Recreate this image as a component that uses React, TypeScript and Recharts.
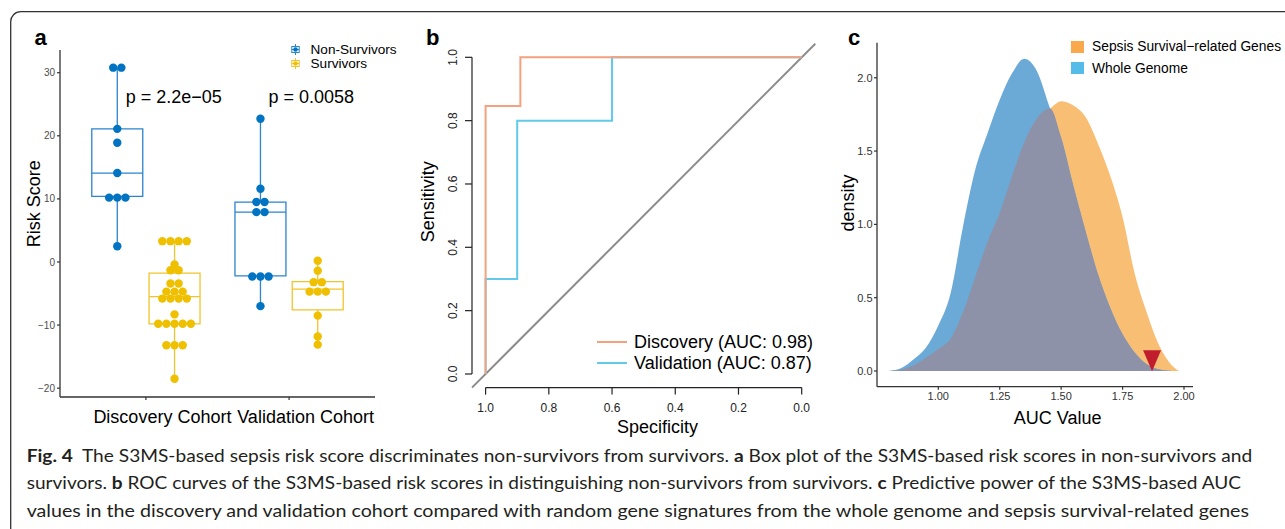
import React from 'react';
import {
  ComposedChart,
  Scatter,
  Line,
  Area,
  XAxis,
  YAxis,
  ReferenceArea,
  ReferenceLine,
  ReferenceDot,
  Legend,
} from 'recharts';

const FONT = '"Liberation Sans", Arial, Helvetica, sans-serif';
const CAPTION_FONT = 'Lato, "Open Sans", sans-serif';

/* ---------------- panel a : risk score box plots ---------------- */
const cohortLabels = ['Discovery Cohort', 'Validation Cohort'];
const cohortPositions = [1, 2];
const groupLabels = ['Non-Survivors', 'Survivors'];
const groupDotColors = ['#0073C2', '#EFC000'];
const groupBoxColors = ['#2A84CE', '#F0C42C'];
const riskTicks = [-20, -10, 0, 10, 20, 30];

// beeswarm rows: [risk score, number of dots at that level]
const discoveryNonSurvivors: [number, number][] = [
  [30.8, 2], [21.1, 1], [18.9, 1], [14.1, 1], [10.2, 3], [2.5, 1],
];
const discoverySurvivors: [number, number][] = [
  [3.3, 4], [-0.4, 1], [-1.3, 2], [-3.4, 2], [-4.7, 3], [-5.8, 4], [-8.3, 1], [-9.8, 5], [-13.2, 3], [-18.5, 1],
];
const validationNonSurvivors: [number, number][] = [
  [22.7, 1], [11.6, 1], [9.5, 2], [7.9, 2], [-2.3, 3], [-7.0, 1],
];
const validationSurvivors: [number, number][] = [
  [0.2, 1], [-1.4, 1], [-3.2, 2], [-4.7, 3], [-8.5, 1], [-11.8, 1], [-13.1, 1],
];

// box statistics: [lower whisker, Q1, median, Q3, upper whisker]
const discoveryNonSurvivorsBox = [2.5, 10.4, 14.1, 21.1, 30.8];
const discoverySurvivorsBox = [-18.5, -9.8, -5.5, -1.75, 3.3];
const validationNonSurvivorsBox = [-7.0, -2.2, 7.9, 9.5, 22.7];
const validationSurvivorsBox = [-13.1, -7.6, -4.3, -3.1, 0.2];

const pValueLabels = ['p = 2.2e\u221205', 'p = 0.0058'];
const pValueX = [1.194, 2.155];
const pValueY = 26.2;

/* ---------------- panel b : ROC curves ---------------- */
const rocTicks = [1, 0.8, 0.6, 0.4, 0.2, 0];
const rocNames = ['Discovery (AUC: 0.98)', 'Validation (AUC: 0.87)'];
const rocColors = ['#F4A17E', '#63C9EA'];
const discoverySpecificity = [1, 1, 0.89, 0.89, 0];
const discoverySensitivity = [0, 0.846, 0.846, 1, 1];
const validationSpecificity = [1, 1, 0.9, 0.9, 0.6, 0.6, 0];
const validationSensitivity = [0, 0.3, 0.3, 0.8, 0.8, 1, 1];

/* ---------------- panel c : AUC densities ---------------- */
const aucGrid = [0.8, 0.85, 0.9, 0.95, 1.0, 1.05, 1.1, 1.15, 1.2, 1.25, 1.3, 1.35, 1.4, 1.455, 1.5, 1.55, 1.6, 1.65, 1.7, 1.75, 1.8, 1.85, 1.9, 1.95, 1.98];
const wholeGenomeDensity = [0.0, 0.02, 0.08, 0.16, 0.31, 0.53, 0.98, 1.37, 1.62, 1.85, 2.03, 2.13, 2.05, 1.79, 1.59, 1.26, 0.95, 0.66, 0.43, 0.25, 0.125, 0.045, 0.01, 0.0, 0.0];
const sepsisDensity = [0.0, 0.01, 0.04, 0.09, 0.15, 0.22, 0.4, 0.64, 0.88, 1.08, 1.33, 1.56, 1.72, 1.79, 1.84, 1.81, 1.73, 1.55, 1.33, 1.05, 0.66, 0.39, 0.17, 0.04, 0.0];
const densityNames = ['Sepsis Survival\u2212related Genes', 'Whole Genome'];
const densityKeyColors = ['#F9A94B', '#55BCEA'];
const densityFills = { sepsis: '#F8BF74', genome: '#6BAAD7', overlap: '#8E92A8' };
const aucTicks = [1, 1.25, 1.5, 1.75, 2];
const densityTicks = [0, 0.5, 1, 1.5, 2];
const observedAuc = { x: 1.87, y: 0.07 };

/* ---------------- caption ---------------- */
const captionLines: { bold: boolean; text: string }[][] = [
  [
    { bold: true, text: 'Fig. 4' },
    { bold: false, text: '  The S3MS-based sepsis risk score discriminates non-survivors from survivors. ' },
    { bold: true, text: 'a' },
    { bold: false, text: ' Box plot of the S3MS-based risk scores in non-survivors and' },
  ],
  [
    { bold: false, text: 'survivors. ' },
    { bold: true, text: 'b' },
    { bold: false, text: ' ROC curves of the S3MS-based risk scores in distinguishing non-survivors from survivors. ' },
    { bold: true, text: 'c' },
    { bold: false, text: ' Predictive power of the S3MS-based AUC' },
  ],
  [
    { bold: false, text: 'values in the discovery and validation cohort compared with random gene signatures from the whole genome and sepsis survival-related genes' },
  ],
];
const captionWidths = [1225.5, 1214.3, 1222.3];
const captionBaselines = [461.5, 489.2, 516.8];

/* ---------------- derived ---------------- */
const GROUP_OFFSET = 0.2;
const BOX_HALF = 0.178;
const DOT_STEP = 0.057;

const boxGroups = [
  { cohort: 0, group: 0, rows: discoveryNonSurvivors, box: discoveryNonSurvivorsBox },
  { cohort: 0, group: 1, rows: discoverySurvivors, box: discoverySurvivorsBox },
  { cohort: 1, group: 0, rows: validationNonSurvivors, box: validationNonSurvivorsBox },
  { cohort: 1, group: 1, rows: validationSurvivors, box: validationSurvivorsBox },
].map((g) => {
  const cx = cohortPositions[g.cohort] + (g.group === 0 ? -1 : 1) * GROUP_OFFSET;
  const points = g.rows.flatMap(([v, n]) =>
    Array.from({ length: n }, (_, i) => ({ x: cx + (i - (n - 1) / 2) * DOT_STEP, y: v }))
  );
  return { ...g, cx, points };
});

const discoveryRoc = discoverySpecificity.map((s, i) => ({ x: s, y: discoverySensitivity[i] }));
const validationRoc = validationSpecificity.map((s, i) => ({ x: s, y: validationSensitivity[i] }));

const densityData = aucGrid.map((x, i) => ({
  x,
  sepsis: sepsisDensity[i],
  genome: wholeGenomeDensity[i],
  overlap: Math.min(sepsisDensity[i], wholeGenomeDensity[i]),
}));

const RISK_DOMAIN: [number, number] = [-21.4, 33.6];
const ROC_DOMAIN: [number, number] = [-0.043, 1.043];
const AUC_DOMAIN: [number, number] = [0.7505, 2.0366];
const DENSITY_DOMAIN: [number, number] = [-0.107, 2.239];

const minus = (v: number) => String(v).replace('-', '\u2212');

/* ---------------- custom pieces ---------------- */
const CohortTick = (props: any) => {
  const { x, y, payload } = props;
  const idx = cohortPositions.indexOf(payload.value);
  return (
    <text x={x + 16.5} y={y + 21} textAnchor="middle" fontSize={18} fill="#000" fontFamily={FONT}>
      {cohortLabels[idx]}
    </text>
  );
};

const RotatedTick = (props: any) => {
  const { x, y, payload } = props;
  return (
    <text
      x={x}
      y={y}
      transform={`rotate(-90 ${x} ${y})`}
      textAnchor="middle"
      fontSize={12}
      fill="#222"
      fontFamily={FONT}
    >
      {Number(payload.value).toFixed(1)}
    </text>
  );
};

const LegendA = () => (
  <div style={{ fontFamily: FONT, fontSize: 13.6, color: '#000', lineHeight: '14.3px' }}>
    {groupLabels.map((name, i) => (
      <div key={name} style={{ display: 'flex', alignItems: 'center', height: 14.3, whiteSpace: 'nowrap' }}>
        <svg width={9} height={11} style={{ marginRight: 10.5, flex: 'none' }}>
          <line x1={4.5} y1={0} x2={4.5} y2={11} stroke={groupBoxColors[i]} strokeWidth={1} />
          <rect x={0.8} y={2.5} width={7.4} height={6} fill="#fff" stroke={groupBoxColors[i]} strokeWidth={1} />
          <line x1={0.8} y1={5.5} x2={8.2} y2={5.5} stroke={groupBoxColors[i]} strokeWidth={1} />
          <circle cx={4.5} cy={5.5} r={2.3} fill={groupDotColors[i]} />
        </svg>
        <span>{name}</span>
      </div>
    ))}
  </div>
);

const LegendB = () => (
  <div style={{ fontFamily: FONT, fontSize: 18, color: '#000', lineHeight: '21px' }}>
    {rocNames.map((name, i) => (
      <div key={name} style={{ display: 'flex', alignItems: 'center', height: 21, whiteSpace: 'nowrap' }}>
        <svg width={30} height={4} style={{ marginRight: 7, flex: 'none' }}>
          <line x1={0} y1={2} x2={30} y2={2} stroke={rocColors[i]} strokeWidth={2} />
        </svg>
        <span>{name}</span>
      </div>
    ))}
  </div>
);

const LegendC = () => (
  <div style={{ fontFamily: FONT, fontSize: 13.8, color: '#000', lineHeight: '21.2px' }}>
    {densityNames.map((name, i) => (
      <div key={name} style={{ display: 'flex', alignItems: 'center', height: 21.2, whiteSpace: 'nowrap' }}>
        <div style={{ width: 12.5, height: 12.5, background: densityKeyColors[i], marginRight: 8.5, flex: 'none' }} />
        <span>{name}</span>
      </div>
    ))}
  </div>
);

const Triangle = (props: any) => {
  const { cx, cy } = props;
  if (cx == null || cy == null) return null;
  return (
    <polygon
      points={`${cx - 9},${cy - 10.5} ${cx + 9},${cy - 10.5} ${cx},${cy + 10.5}`}
      fill="#C11E2D"
    />
  );
};

const legendWrap = (left: number, top: number) => ({
  position: 'absolute' as const,
  left,
  top,
  width: 'auto',
  height: 'auto',
  margin: 0,
});

/* ---------------- charts ---------------- */
const PanelA = () => (
  <ComposedChart width={400} height={440} margin={{ top: 50, right: 25, bottom: 0, left: 0 }}>
    <XAxis
      type="number"
      dataKey="x"
      domain={[0.4, 2.6]}
      ticks={cohortPositions}
      allowDataOverflow
      interval={0}
      height={43}
      tickSize={3}
      tick={<CohortTick />}
      axisLine={{ stroke: '#333', strokeWidth: 1.3 }}
      tickLine={{ stroke: '#333', strokeWidth: 1.2 }}
    />
    <YAxis
      type="number"
      dataKey="y"
      domain={RISK_DOMAIN}
      ticks={riskTicks}
      allowDataOverflow
      interval={0}
      width={60}
      tickSize={3}
      tickFormatter={minus}
      tick={{ fontSize: 10, fill: '#4D4D4D', fontFamily: FONT }}
      axisLine={{ stroke: '#333', strokeWidth: 1.3 }}
      tickLine={{ stroke: '#333', strokeWidth: 1.2 }}
    />
    {boxGroups.flatMap((g, k) => {
      const [lo, q1, med, q3, hi] = g.box;
      const c = groupBoxColors[g.group];
      return [
        <ReferenceLine key={`wl${k}`} segment={[{ x: g.cx, y: lo }, { x: g.cx, y: q1 }]} stroke={c} strokeWidth={1.3} />,
        <ReferenceLine key={`wh${k}`} segment={[{ x: g.cx, y: q3 }, { x: g.cx, y: hi }]} stroke={c} strokeWidth={1.3} />,
        <ReferenceArea
          key={`bx${k}`}
          x1={g.cx - BOX_HALF}
          x2={g.cx + BOX_HALF}
          y1={q1}
          y2={q3}
          fill="none"
          fillOpacity={0}
          stroke={c}
          strokeWidth={1.3}
        />,
        <ReferenceLine
          key={`md${k}`}
          segment={[{ x: g.cx - BOX_HALF, y: med }, { x: g.cx + BOX_HALF, y: med }]}
          stroke={c}
          strokeWidth={1.3}
        />,
      ];
    })}
    {boxGroups.map((g, k) => (
      <Scatter
        key={`pts${k}`}
        name={groupLabels[g.group]}
        data={g.points}
        fill={groupDotColors[g.group]}
        isAnimationActive={false}
        shape={(p: any) => <circle cx={p.cx} cy={p.cy} r={4.2} fill={groupDotColors[g.group]} />}
      />
    ))}
    {pValueLabels.map((lab, i) => (
      <ReferenceDot
        key={lab}
        x={pValueX[i]}
        y={pValueY}
        r={0}
        fill="none"
        stroke="none"
        label={{ value: lab, position: 'center', fontSize: 18, fill: '#000', fontFamily: FONT }}
      />
    ))}
    <Legend
      layout="vertical"
      align="center"
      verticalAlign="middle"
      content={<LegendA />}
      wrapperStyle={legendWrap(291, 42.5)}
    />
  </ComposedChart>
);

const PanelB = () => (
  <ComposedChart width={420} height={440} margin={{ top: 43.7, right: 14.7, bottom: 0, left: 0 }}>
    <XAxis
      type="number"
      dataKey="x"
      domain={ROC_DOMAIN}
      reversed
      allowDataOverflow
      ticks={rocTicks}
      interval={0}
      tickFormatter={(v: number) => v.toFixed(1)}
      height={52.4}
      tickSize={7}
      tickMargin={9}
      axisLine={false}
      tick={{ fontSize: 12, fill: '#222', fontFamily: FONT }}
      tickLine={{ stroke: '#222', strokeWidth: 1.2 }}
    />
    <YAxis
      type="number"
      dataKey="y"
      domain={ROC_DOMAIN}
      allowDataOverflow
      ticks={[0, 0.2, 0.4, 0.6, 0.8, 1]}
      interval={0}
      width={62}
      tickSize={7}
      tickMargin={8.3}
      axisLine={false}
      tick={<RotatedTick />}
      tickLine={{ stroke: '#222', strokeWidth: 1.2 }}
    />
    <ReferenceLine
      segment={[{ x: 1, y: ROC_DOMAIN[0] }, { x: 0, y: ROC_DOMAIN[0] }]}
      stroke="#222"
      strokeWidth={1.2}
      ifOverflow="visible"
    />
    <ReferenceLine
      segment={[{ x: ROC_DOMAIN[1], y: 0 }, { x: ROC_DOMAIN[1], y: 1 }]}
      stroke="#222"
      strokeWidth={1.2}
      ifOverflow="visible"
    />
    <ReferenceLine
      segment={[
        { x: ROC_DOMAIN[1], y: 1 - ROC_DOMAIN[1] },
        { x: ROC_DOMAIN[0], y: 1 - ROC_DOMAIN[0] },
      ]}
      stroke="#8C8C8C"
      strokeWidth={2}
      ifOverflow="visible"
    />
    <Line
      data={validationRoc}
      dataKey="y"
      name={rocNames[1]}
      type="linear"
      stroke={rocColors[1]}
      strokeWidth={2}
      dot={false}
      activeDot={false}
      isAnimationActive={false}
    />
    <Line
      data={discoveryRoc}
      dataKey="y"
      name={rocNames[0]}
      type="linear"
      stroke={rocColors[0]}
      strokeWidth={2}
      dot={false}
      activeDot={false}
      isAnimationActive={false}
    />
    <Legend
      layout="vertical"
      align="center"
      verticalAlign="middle"
      content={<LegendB />}
      wrapperStyle={legendWrap(187, 331.5)}
    />
  </ComposedChart>
);

const PanelC = () => (
  <ComposedChart width={455} height={440} data={densityData} margin={{ top: 42.7, right: 92, bottom: 0, left: 0 }}>
    <XAxis
      type="number"
      dataKey="x"
      domain={AUC_DOMAIN}
      allowDataOverflow
      ticks={aucTicks}
      interval={0}
      tickFormatter={(v: number) => v.toFixed(2)}
      height={53.3}
      tickSize={3}
      tickMargin={2}
      tick={{ fontSize: 11, fill: '#333', fontFamily: FONT }}
      axisLine={{ stroke: '#333', strokeWidth: 1.3 }}
      tickLine={{ stroke: '#333', strokeWidth: 1.2 }}
    />
    <YAxis
      type="number"
      domain={DENSITY_DOMAIN}
      allowDataOverflow
      ticks={densityTicks}
      interval={0}
      tickFormatter={(v: number) => v.toFixed(1)}
      width={47}
      tickSize={3}
      tickMargin={1.5}
      tick={{ fontSize: 11, fill: '#333', fontFamily: FONT }}
      axisLine={{ stroke: '#333', strokeWidth: 1.3 }}
      tickLine={{ stroke: '#333', strokeWidth: 1.2 }}
    />
    <Area
      dataKey="sepsis"
      name={densityNames[0]}
      type="monotone"
      baseValue={0}
      fill={densityFills.sepsis}
      fillOpacity={1}
      stroke="none"
      activeDot={false}
      isAnimationActive={false}
    />
    <Area
      dataKey="genome"
      name={densityNames[1]}
      type="monotone"
      baseValue={0}
      fill={densityFills.genome}
      fillOpacity={1}
      stroke="none"
      activeDot={false}
      isAnimationActive={false}
    />
    <Area
      dataKey="overlap"
      type="monotone"
      baseValue={0}
      fill={densityFills.overlap}
      fillOpacity={1}
      stroke="none"
      activeDot={false}
      isAnimationActive={false}
      legendType="none"
    />
    <ReferenceDot x={observedAuc.x} y={observedAuc.y} r={10} shape={<Triangle />} ifOverflow="visible" />
    <Legend
      layout="vertical"
      align="center"
      verticalAlign="middle"
      content={<LegendC />}
      wrapperStyle={legendWrap(241, 36.4)}
    />
  </ComposedChart>
);

const Overlay = () => (
  <svg width={1285} height={529} style={{ position: 'absolute', left: 0, top: 0 }}>
    <path d="M 10.7 529 L 10.7 22 A 10 10 0 0 1 20.7 11.7 L 1285 11.7" fill="none" stroke="#333" strokeWidth={1.3} />
    <g fontFamily={FONT} fontWeight="bold" fontSize={22} fill="#000">
      <text x={34.5} y={45}>a</text>
      <text x={426} y={45}>b</text>
      <text x={848} y={45}>c</text>
    </g>
    <g fontFamily={FONT} fontSize={18} fill="#000" textAnchor="middle">
      <text x={40} y={203.7} transform="rotate(-90 40 203.7)">Risk Score</text>
      <text x={434} y={201.7} transform="rotate(-90 434 201.7)">Sensitivity</text>
      <text x={657.5} y={433}>Specificity</text>
      <text x={853.5} y={203} transform="rotate(-90 853.5 203)">density</text>
      <text x={1057.7} y={424}>AUC Value</text>
    </g>
    <g fontFamily={CAPTION_FONT} fontSize={16.5} fill="#231F20">
      {captionLines.map((line, li) => (
        <text
          key={li}
          x={26.7}
          y={captionBaselines[li]}
          textLength={captionWidths[li]}
          lengthAdjust="spacingAndGlyphs"
          style={{ whiteSpace: 'pre' }}
        >
          {line.map((seg, si) => (
            <tspan key={si} fontWeight={seg.bold ? 'bold' : 'normal'}>
              {seg.text}
            </tspan>
          ))}
        </text>
      ))}
    </g>
  </svg>
);

export default function App() {
  return (
    <div
      style={{
        position: 'absolute',
        left: 0,
        top: 0,
        width: 1285,
        height: 529,
        background: '#fff',
        overflow: 'hidden',
        fontFamily: FONT,
      }}
    >
      <Overlay />
      <div style={{ position: 'absolute', left: 0, top: 0 }}>
        <PanelA />
      </div>
      <div style={{ position: 'absolute', left: 410, top: 0 }}>
        <PanelB />
      </div>
      <div style={{ position: 'absolute', left: 830, top: 0 }}>
        <PanelC />
      </div>
    </div>
  );
}
